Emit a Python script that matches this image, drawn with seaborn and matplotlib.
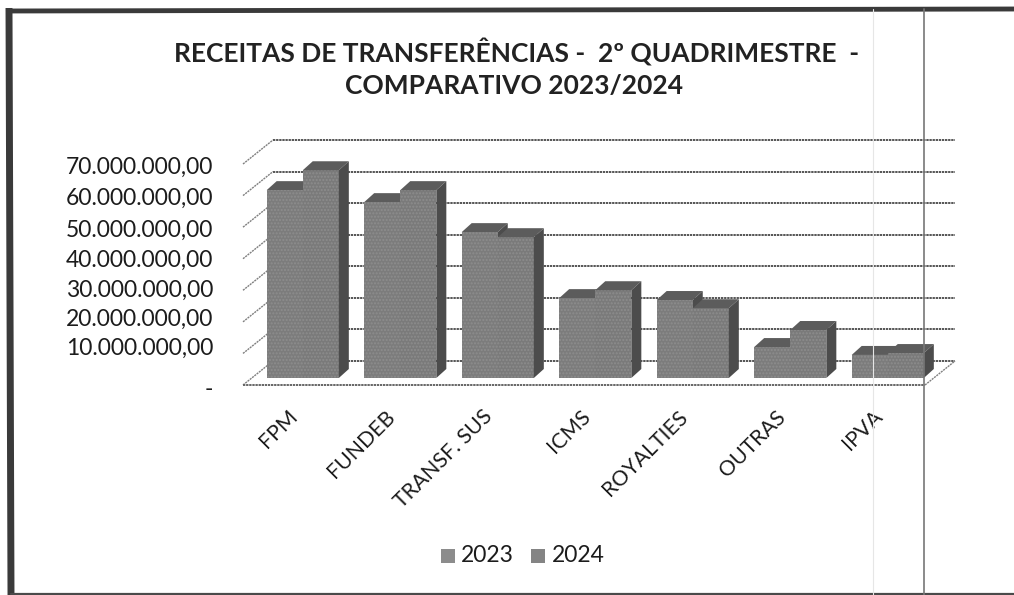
import matplotlib
matplotlib.use('Agg')
import matplotlib.pyplot as plt
from matplotlib.lines import Line2D
from matplotlib.patches import Polygon, Rectangle
from matplotlib.transforms import ScaledTranslation
import pandas as pd
import seaborn as sns

categorias = ['FPM', 'FUNDEB', 'TRANSF. SUS', 'ICMS', 'ROYALTIES', 'OUTRAS', 'IPVA']
valores_2023 = [59.5e6, 55.7e6, 46.2e6, 25.3e6, 24.7e6, 9.8e6, 7.3e6]
valores_2024 = [65.8e6, 59.5e6, 44.6e6, 27.8e6, 22.1e6, 15.2e6, 7.9e6]
ticks_y = [0, 10e6, 20e6, 30e6, 40e6, 50e6, 60e6, 70e6]
rotulos_y = ['-', '10.000.000,00', '20.000.000,00', '30.000.000,00', '40.000.000,00',
             '50.000.000,00', '60.000.000,00', '70.000.000,00']
# ajuste vertical (px) de cada rotulo do eixo y, como no original
ajuste_rotulos = [-9, 0, -2, -5, -7, -8, -8, -8]

W, H = 1014, 595
DPI = 100
PROF_X, PROF_Y = 10, 9

plt.rcParams['font.family'] = ['Lato', 'DejaVu Sans']
sns.set_theme(style='white', rc={'font.family': ['Lato', 'DejaVu Sans']})
plt.rcParams['font.family'] = ['Lato', 'DejaVu Sans']

df = pd.DataFrame({'cat': categorias * 2,
                   'valor': valores_2023 + valores_2024,
                   'ano': ['2023'] * 7 + ['2024'] * 7})

fig = plt.figure(figsize=(W / DPI, H / DPI), dpi=DPI, facecolor='white')
# eixo: valor 0 em y=378 px, 70M em y=157 px
ax = fig.add_axes([254 / W, 1 - 378 / H, 682.5 / W, 221 / H])
ax.patch.set_alpha(0)


def desloca(dx, dy):
    return ScaledTranslation(dx / DPI, dy / DPI, fig.dpi_scale_trans)


sns.barplot(data=df, x='cat', y='valor', hue='ano', order=categorias,
            hue_order=['2023', '2024'], palette=['#7c7c7c', '#7a7a7a'],
            width=0.74, gap=0, dodge=True, saturation=1, legend=False,
            edgecolor='none', zorder=3, ax=ax)
ax.set_ylim(0, 70e6)
ax.set_xlim(-0.5, 6.5)

# linhas de grade na parede do fundo e diagonais na lateral
base_x = ax.get_yaxis_transform()
fundo = base_x + desloca(19, 17)
frente = base_x + desloca(-11, -7)
for v in ticks_y:
    ax.plot([0, 0.999], [v, v], transform=fundo, color='#555555',
            lw=1.4, ls=(0, (1.2, 0.4)), zorder=1, clip_on=False)
    x0, y0 = frente.transform((0, v))
    x1, y1 = fundo.transform((0, v))
    fig.add_artist(Line2D([x0 / W, x1 / W], [y0 / H, y1 / H], color='#808080', lw=1.0,
                          ls=(0, (1.5, 0.6))))

# faces de cima e do lado de cada barra, a partir das barras do seaborn
barras = sorted([p for p in ax.patches if p.get_height() > 0],
                key=lambda p: (p.get_x() + p.get_width() / 2, p.get_x()))
for ordem, p in enumerate(barras):
    p.set_hatch('.....')
    p.set_edgecolor('#8d8d8d')
    p.set_linewidth(0)
    bb = p.get_window_extent()
    x0, x1, y0, y1 = bb.x0, bb.x1, bb.y0, bb.y1
    z = 1.5 if ordem % 2 == 0 else 3.5
    topo = [(x0, y1), (x1, y1), (x1 + PROF_X, y1 + PROF_Y), (x0 + PROF_X, y1 + PROF_Y)]
    lado = [(x1, y0), (x1 + PROF_X, y0 + PROF_Y), (x1 + PROF_X, y1 + PROF_Y), (x1, y1)]
    ax.add_patch(Polygon(topo, closed=True, transform=None, facecolor='#5c5c5c',
                         edgecolor='none', zorder=z))
    ax.add_patch(Polygon(lado, closed=True, transform=None, facecolor='#4c4c4c',
                         edgecolor='none', zorder=z))

# piso frontal
piso_y = fig.transFigure.inverted().transform(frente.transform((0, 0)))[1]
fig.add_artist(Line2D([243 / W, 925 / W], [piso_y, piso_y], color='#666666', lw=1.4,
                      ls=(0, (1.2, 0.4))))
fig.add_artist(Line2D([925 / W, 955 / W], [piso_y, 1 - 361 / H], color='#808080', lw=1.0,
                      ls=(0, (1.5, 0.6))))

ax.set_yticks(ticks_y)
ax.set_yticklabels(rotulos_y, fontsize=16.5, color='#1c1c1c')
ax.tick_params(axis='y', length=0, pad=29.5)
ax.set_xticks(range(len(categorias)))
ax.set_xticklabels(categorias, rotation=45, ha='right', rotation_mode='anchor',
                   fontsize=15.3, color='#1c1c1c')
ax.tick_params(axis='x', length=0, pad=20.5)
ax.set_xlabel('')
ax.set_ylabel('')
sns.despine(ax=ax, left=True, bottom=True)

# tem que vir depois do tick_params, que refaz o transform dos rotulos
for tick, dy in zip(ax.yaxis.get_major_ticks(), ajuste_rotulos):
    tick.label1.set_transform(tick.label1.get_transform() + desloca(0, dy))
for tick in ax.xaxis.get_major_ticks():
    tick.label1.set_transform(tick.label1.get_transform() + desloca(-15, 0))

fig.text(517 / W, 1 - 52 / H, 'RECEITAS DE TRANSFERÊNCIAS -  2º QUADRIMESTRE  -',
         ha='center', va='center', fontsize=19, fontweight='bold', color='#222222')
fig.text(514 / W, 1 - 86 / H, 'COMPARATIVO 2023/2024',
         ha='center', va='center', fontsize=19, fontweight='bold', color='#222222')

# legenda
for x_q, x_t, ano, cor in [(441, 461, '2023', '#8c8c8c'), (531, 552, '2024', '#848484')]:
    fig.add_artist(Rectangle((x_q / W, 1 - 563 / H), 14 / W, 14 / H, transform=fig.transFigure,
                             facecolor=cor, edgecolor='none'))
    fig.text(x_t / W, 1 - 556 / H, ano, ha='left', va='center', fontsize=16.5, color='#1c1c1c')

# moldura e marcas da digitalizacao
fig.add_artist(Line2D([9 / W, 11 / W], [1 - 8 / H, 0], color='#3a3a3a', lw=5,
                      solid_capstyle='butt'))
fig.add_artist(Line2D([6 / W, 1], [1 - 11 / H, 1 - 9 / H], color='#3a3a3a', lw=3.5,
                      solid_capstyle='butt'))
fig.add_artist(Line2D([11 / W, 1], [1 - 593.5 / H, 1 - 593.5 / H], color='#4a4a4a', lw=1.6))
fig.add_artist(Line2D([924 / W, 924 / W], [0, 1 - 9 / H], color='#777777', lw=1.2))
fig.add_artist(Line2D([873 / W, 873 / W], [0, 1 - 9 / H], color='#e6e6e6', lw=0.8))

fig.savefig('out.png', dpi=DPI, facecolor=fig.get_facecolor())
